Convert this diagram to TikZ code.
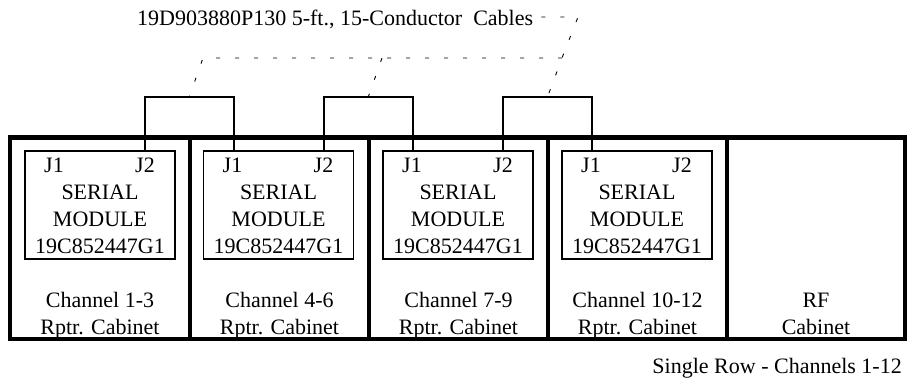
\documentclass[tikz,border=0pt]{standalone}
\usepackage{fontspec}
\setmainfont{Liberation Serif}
\usetikzlibrary{calc}
\begin{document}
\begin{tikzpicture}[x=1pt,y=-1pt,
  cab/.style={draw, line width=4.5pt, inner sep=0pt, outer sep=0pt, minimum height=201.5pt},
  module/.style={draw, line width=1.4pt, inner sep=0pt, outer sep=0pt, minimum width=150pt, minimum height=108pt},
  txt/.style={anchor=base, inner sep=0pt, font=\fontsize{22}{27}\selectfont},
  cable/.style={line width=2pt},
  leader/.style={line width=0.9pt, dash pattern=on 4pt off 15pt}]
\useasboundingbox (0,0) rectangle (914,379);
% cabinets
\foreach \i/\x/\w in {1/100/180,2/279.5/179,3/458.5/179,4/637.5/179,5/816/178}{
  \node[cab, minimum width=\w pt] (cab\i) at (\x,238.25) {};
}
% serial modules
\foreach \i/\x in {1/100,2/278.5,3/458,4/637}{
  \node[module] (m\i) at (\x,205) {};
  \node[txt] (m\i j1) at ($(m\i.north west)+(29,22)$) {J1};
  \node[txt] (m\i j2) at ($(m\i.north west)+(120,22)$) {J2};
  \node[txt] (m\i a) at ($(m\i.north)+(0,49)$) {SERIAL};
  \node[txt] (m\i b) at ($(m\i.north)+(0,76)$) {MODULE};
  \node[txt] (m\i c) at ($(m\i.north)+(0,103)$) {19C852447G1};
  \coordinate (p\i a) at ($(m\i.north west)+(30,0)$);
  \coordinate (p\i b) at ($(m\i.north west)+(120,0)$);
}
% cabinet labels
\foreach \i/\t in {1/Channel 1-3,2/Channel 4-6,3/Channel 7-9,4/Channel 10-12}{
  \node[txt] (cl\i a) at (cab\i.center |- 0,308) {\t};
  \node[txt] (cl\i b) at (cab\i.center |- 0,335) {Rptr. Cabinet};
}
\node[txt] (cl5a) at (cab5.center |- 0,308) {RF};
\node[txt] (cl5b) at (cab5.center |- 0,335) {Cabinet};
% cables
\coordinate (ctop) at (0,97);
\draw[cable] (p1b) |- (p2a |- ctop) -- (p2a);
\draw[cable] (p2b) |- (p3a |- ctop) -- (p3a);
\draw[cable] (p3b) |- (p4a |- ctop) -- (p4a);
\coordinate (k1) at ($(p1b |- ctop)!0.5!(p2a |- ctop)$);
\coordinate (k2) at ($(p2b |- ctop)!0.5!(p3a |- ctop)$);
\coordinate (k3) at ($(p3b |- ctop)!0.5!(p4a |- ctop)$);
% labels
\node[txt, anchor=base west] (lbl) at (137,26) {19D903880P130 5-ft., 15-Conductor~~Cables};
\node[txt, anchor=base east] (row) at (902,374) {Single Row - Channels 1-12};
% leader lines
\coordinate (d0) at ($(lbl.base east)+(8,-9)$);
\coordinate (d1) at (578,17);
\coordinate (e1) at (203,58);
\coordinate (e2) at (382,58);
\coordinate (e3) at (562,58);
\draw[leader] (d0) -- (d1) -- (e3) -- (k3);
\draw[leader] (e3) -- (e1) -- (k1);
\draw[leader] (e2) -- (k2);
\end{tikzpicture}
\end{document}
